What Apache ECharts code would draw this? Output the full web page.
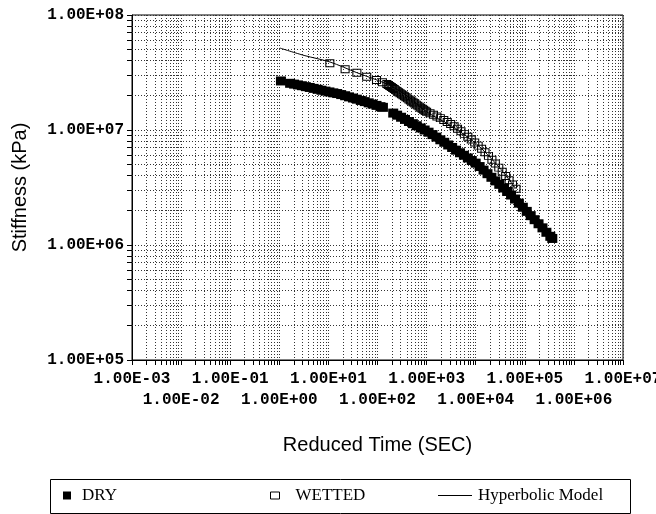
<!DOCTYPE html>
<html>
<head>
<meta charset="utf-8">
<script src="https://cdn.jsdelivr.net/npm/echarts@6/dist/echarts.min.js"></script>
<style>html,body{margin:0;padding:0;background:#fff}#c{width:656px;height:514px}</style>
</head>
<body>
<div id="c"></div>
<script>
// ---- tick labels (decade exponents) ----
const xTickExp = [-3, -2, -1, 0, 1, 2, 3, 4, 5, 6, 7];
const yTickExp = [5, 6, 7, 8];

// ---- DRY series (reduced time s, stiffness kPa) ----
const dryTime = [1.08,
  1.66, 2.0, 2.4, 2.88, 3.47, 4.17, 5.01, 6.03, 7.24, 8.71, 10.5, 12.6, 15.1, 18.2, 21.9, 26.3, 31.6, 38.0, 45.7, 55.0, 66.1, 79.4, 95.5, 115, 129,
  209, 251, 302, 363, 437, 525, 631, 759, 912, 1096, 1318, 1585, 1905, 2291, 2754, 3311, 3981, 4786, 5754, 6918, 8318, 10000,
  12023, 14454, 17378, 20893, 25119, 30200, 36308, 43652, 52481, 63096, 75858, 91201, 109648, 131826, 158489, 190546, 229087, 275423, 331131, 363078];
const dryStiff = [2.67e7,
  2.547e7, 2.506e7, 2.466e7, 2.427e7, 2.382e7, 2.344e7, 2.301e7, 2.259e7, 2.218e7, 2.178e7, 2.143e7, 2.104e7, 2.075e7, 2.032e7, 1.986e7, 1.941e7, 1.897e7, 1.854e7, 1.807e7, 1.766e7, 1.722e7, 1.679e7, 1.637e7, 1.596e7, 1.574e7,
  1.403e7, 1.346e7, 1.291e7, 1.236e7, 1.186e7, 1.135e7, 1.089e7, 1.042e7, 1.0e7, 9.57e6, 9.12e6, 8.67e6, 8.22e6, 7.82e6, 7.41e6, 7.05e6, 6.68e6, 6.34e6, 6.03e6, 5.71e6, 5.43e6, 5.15e6,
  4.81e6, 4.48e6, 4.17e6, 3.88e6, 3.61e6, 3.37e6, 3.13e6, 2.92e6, 2.72e6, 2.51e6, 2.31e6, 2.13e6, 1.96e6, 1.80e6, 1.66e6, 1.53e6, 1.41e6, 1.29e6, 1.19e6, 1.14e6];

// ---- WETTED series ----
const wetTime = [10.7, 21.9, 38.0, 60.3, 95.5, 126, 155,
  166, 178, 191, 204, 219, 234, 251, 269, 288, 309, 331, 355, 380, 407, 437, 468, 501, 537, 575, 617, 661, 708, 759, 813, 871, 933, 1000,
  1175, 1380, 1622, 1905, 2239, 2630, 3090, 3631, 4266, 5012, 5888, 6918, 8128, 9550, 11220, 13183, 15488, 18197, 21380, 25119, 29512, 34674, 40738, 47863, 56234, 66069];
const wetStiff = [3.80e7, 3.37e7, 3.15e7, 2.90e7, 2.72e7, 2.60e7, 2.51e7,
  2.466e7, 2.415e7, 2.366e7, 2.317e7, 2.270e7, 2.223e7, 2.178e7, 2.133e7, 2.089e7, 2.046e7, 2.004e7, 1.963e7, 1.923e7, 1.884e7, 1.845e7, 1.807e7, 1.770e7, 1.734e7, 1.698e7, 1.663e7, 1.629e7, 1.596e7, 1.563e7, 1.531e7, 1.500e7, 1.469e7, 1.439e7,
  1.396e7, 1.355e7, 1.312e7, 1.268e7, 1.222e7, 1.175e7, 1.127e7, 1.076e7, 1.026e7, 9.75e6, 9.25e6, 8.75e6, 8.26e6, 7.78e6, 7.31e6, 6.86e6, 6.40e6, 5.96e6, 5.52e6, 5.11e6, 4.71e6, 4.34e6, 3.98e6, 3.66e6, 3.36e6, 3.08e6];

// ---- Hyperbolic model ----
const hypTime = [1.03, 3.2, 10.8, 38, 155, 400, 1000, 3000, 10000, 30000, 63000];
const hypStiff = [5.16e7, 4.45e7, 3.90e7, 3.15e7, 2.51e7, 1.98e7, 1.44e7, 1.10e7, 7.67e6, 4.75e6, 3.16e6];

function fmt(v) {
  const e = Math.round(Math.log10(v));
  return '1.00E' + (e < 0 ? '-' : '+') + String(Math.abs(e)).padStart(2, '0');
}
function isEvenExp(v) { return Math.abs(Math.round(Math.log10(v))) % 2 === 0; }
function zip(a, b) { return a.map((v, i) => [v, b[i]]); }

// minor grid positions (2..9 within each decade)
const xMinor = [], yMinor = [];
for (let i = 0; i < xTickExp.length - 1; i++) for (let m = 2; m <= 9; m++) xMinor.push([m * Math.pow(10, xTickExp[i]), 1e6]);
for (let i = 0; i < yTickExp.length - 1; i++) for (let m = 2; m <= 9; m++) yMinor.push([1, m * Math.pow(10, yTickExp[i])]);

const gridStyle = { stroke: '#333', lineDash: [1, 2], lineWidth: 1 };
function crisp(v) { return Math.round(v - 0.5) + 0.5; }

function renderV(params, api) {
  const cs = params.coordSys;
  const x = crisp(api.coord([api.value(0), api.value(1)])[0]);
  return { type: 'group', children: [
    { type: 'line', shape: { x1: x, y1: cs.y, x2: x, y2: cs.y + cs.height }, style: gridStyle },
    { type: 'line', shape: { x1: x, y1: cs.y + cs.height, x2: x, y2: cs.y + cs.height + 5 }, style: { stroke: '#000', lineWidth: 1 } }
  ]};
}
function renderH(params, api) {
  const cs = params.coordSys;
  const y = crisp(api.coord([api.value(0), api.value(1)])[1]);
  return { type: 'group', children: [
    { type: 'line', shape: { x1: cs.x, y1: y, x2: cs.x + cs.width, y2: y }, style: gridStyle },
    { type: 'line', shape: { x1: cs.x - 5, y1: y, x2: cs.x, y2: y }, style: { stroke: '#000', lineWidth: 1 } }
  ]};
}

const monoFont = "'Courier New', 'Liberation Mono', monospace";
const serifFont = "'Liberation Serif', 'Times New Roman', serif";
const xMin = Math.pow(10, xTickExp[0]), xMax = Math.pow(10, xTickExp[xTickExp.length - 1]);
const labelBase = { interval: 0, showMinLabel: true, showMaxLabel: true, hideOverlap: false,
  fontFamily: monoFont, fontWeight: 'bold', fontSize: 16, color: '#000' };

const chart = echarts.init(document.getElementById('c'), null, { renderer: 'canvas' });
chart.setOption({
  animation: false,
  backgroundColor: '#fff',
  grid: { left: 132, right: 33, top: 15, bottom: 154, show: true, borderColor: '#000', borderWidth: 1,
          containLabel: false, outerBoundsMode: 'none' },
  xAxis: [{
    type: 'log', logBase: 10, min: xMin, max: xMax, interval: 1, splitNumber: xTickExp.length - 1,
    name: 'Reduced Time (SEC)', nameLocation: 'middle', nameGap: 75,
    nameTextStyle: { fontFamily: "'Liberation Sans', Arial, sans-serif", fontSize: 20, color: '#000' },
    axisLine: { lineStyle: { color: '#000', width: 1 } },
    axisTick: { show: true, inside: false, length: 5, interval: 0, lineStyle: { color: '#000' } },
    splitLine: { show: true, interval: 0, lineStyle: { color: '#333', type: [1, 2], width: 1 } },
    axisLabel: Object.assign({}, labelBase, { margin: 11, formatter: v => isEvenExp(v) ? '' : fmt(v) })
  }, {
    type: 'log', logBase: 10, min: xMin, max: xMax, interval: 1, splitNumber: xTickExp.length - 1,
    position: 'bottom', offset: 0,
    axisLine: { show: false }, axisTick: { show: false }, splitLine: { show: false },
    axisLabel: Object.assign({}, labelBase, { margin: 32, formatter: v => isEvenExp(v) ? fmt(v) : '' })
  }],
  yAxis: {
    type: 'log', logBase: 10, min: Math.pow(10, yTickExp[0]), max: Math.pow(10, yTickExp[yTickExp.length - 1]),
    interval: 1, splitNumber: yTickExp.length - 1,
    name: 'Stiffness (kPa)', nameLocation: 'middle', nameGap: 102, nameRotate: 90,
    nameTextStyle: { fontFamily: "'Liberation Sans', Arial, sans-serif", fontSize: 20, color: '#000' },
    axisLine: { lineStyle: { color: '#000', width: 1 } },
    axisTick: { show: true, inside: false, length: 5, lineStyle: { color: '#000' } },
    splitLine: { show: true, lineStyle: { color: '#333', type: [1, 2], width: 1 } },
    axisLabel: { margin: 8, fontFamily: monoFont, fontWeight: 'bold', fontSize: 16, color: '#000', formatter: fmt }
  },
  legend: [
    { data: ['DRY'], left: 58, top: 482, icon: 'rect', itemWidth: 8, itemHeight: 8,
      textStyle: { fontFamily: serifFont, fontSize: 17, color: '#000', padding: [0, 0, 0, 6] } },
    { data: [{ name: 'WETTED', itemStyle: { color: '#fff', borderColor: '#000', borderWidth: 1 } }], left: 265, top: 482, icon: 'rect', itemWidth: 9, itemHeight: 7,
      textStyle: { fontFamily: serifFont, fontSize: 17, color: '#000', padding: [0, 0, 0, 11] } },
    { data: [{ name: 'Hyperbolic Model', itemStyle: { color: '#000', borderWidth: 0 } }], left: 433, top: 482, icon: 'rect', itemWidth: 34, itemHeight: 1,
      textStyle: { fontFamily: serifFont, fontSize: 17, color: '#000', padding: [0, 0, 0, 1] } }
  ],
  graphic: [
    { type: 'rect', left: 48, top: 477, shape: { width: 580, height: 34 }, style: { fill: 'none', stroke: '#000', lineWidth: 1 }, silent: true }
  ],
  series: [
    { type: 'custom', name: 'gridX', data: xMinor, renderItem: renderV, silent: true, z: 1, clip: false, encode: { x: 0, y: 1 } },
    { type: 'custom', name: 'gridY', data: yMinor, renderItem: renderH, silent: true, z: 1, clip: false, encode: { x: 0, y: 1 } },
    { type: 'scatter', name: 'DRY', data: zip(dryTime, dryStiff), symbol: 'rect', symbolSize: [10, 9],
      itemStyle: { color: '#000', opacity: 1 }, z: 3 },
    { type: 'scatter', name: 'WETTED', data: zip(wetTime, wetStiff), symbol: 'rect', symbolSize: [8, 7],
      itemStyle: { color: 'rgba(255,255,255,0)', borderColor: '#000', borderWidth: 1, opacity: 1 }, z: 4 },
    { type: 'line', name: 'Hyperbolic Model', data: zip(hypTime, hypStiff), symbol: 'none', smooth: 0.3,
      lineStyle: { color: '#000', width: 1 }, itemStyle: { color: '#000' }, z: 2 }
  ]
});
</script>
</body>
</html>
